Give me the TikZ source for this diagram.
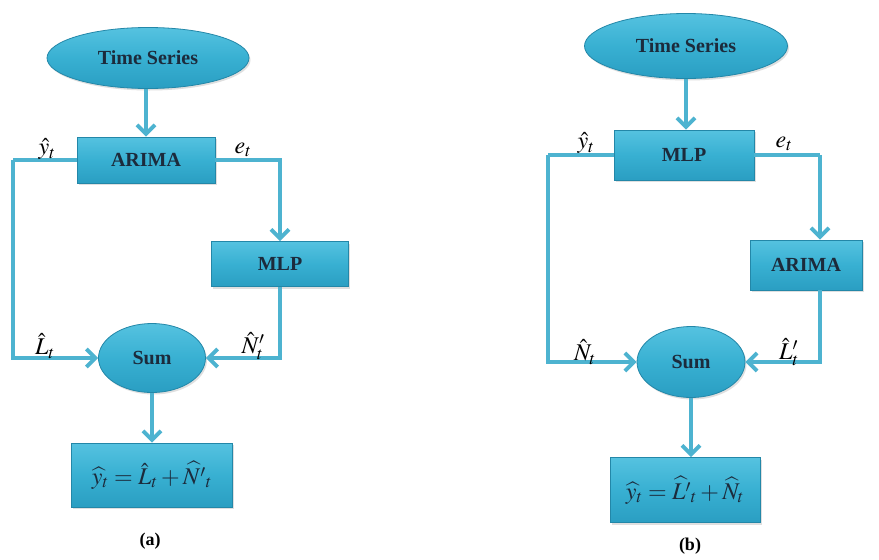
\documentclass[tikz,border=0pt]{standalone}
\usepackage{mathptmx}
\usepackage{fontspec}
\setmainfont{Liberation Serif}
\usetikzlibrary{arrows.meta,shapes.geometric,shadows}
\definecolor{fillc}{HTML}{38B0D2}
\definecolor{topc}{HTML}{55C2E0}
\definecolor{botc}{HTML}{2A9EC2}
\definecolor{edgec}{HTML}{2387A8}
\definecolor{linec}{HTML}{4DB3D0}
\definecolor{txtc}{HTML}{1C2B3C}
\tikzset{
  x=1pt, y=-1pt,
  shapebase/.style={draw=edgec, line width=0.8pt, top color=topc, bottom color=botc,
    middle color=fillc, text=txtc, font=\bfseries\fontsize{20}{23}\selectfont,
    inner sep=0pt, drop shadow={opacity=0.25, shadow xshift=1.5pt, shadow yshift=-2pt}},
  flowbox/.style={shapebase, rectangle},
  flowoval/.style={shapebase, ellipse},
  conn/.style={draw=linec, line width=3.8pt, line cap=butt, line join=miter},
  arr/.style={conn, -{Straight Barb[length=9pt,width=18pt]}},
  lab/.style={font=\fontsize{24}{28}\selectfont, text=black, inner sep=0pt},
  formula/.style={font=\fontsize{24}{28}\selectfont},
  captext/.style={font=\bfseries\fontsize{18}{21}\selectfont, inner sep=0pt}
}
\begin{document}
\begin{tikzpicture}
\useasboundingbox (0,0) rectangle (879,560);
\fill[white] (0,0) rectangle (879,560);

% ---------- panel (a) ----------
\node[flowoval, minimum width=202pt, minimum height=61pt] (ts1) at (148,58) {Time Series};
\node[flowbox, minimum width=138pt, minimum height=46pt] (ar1) at (146,160) {ARIMA};
\node[flowbox, minimum width=137pt, minimum height=45pt] (mlp1) at (280,264) {MLP};
\node[flowoval, minimum width=107pt, minimum height=69pt] (sum1) at (152,358) {Sum};
\node[flowbox, minimum width=161pt, minimum height=64pt, formula] (res1) at (152,475)
  {$\widehat{y}_t=\hat{L}_t+\widehat{N'}_t$};
\coordinate (l1) at (13,160);

\draw[arr] (ts1.south -| ar1.north) -- (ar1.north);
\draw[conn] (ar1.west) -- (l1);
\draw[arr] (l1) |- (sum1.west);
\draw[arr] (ar1.east) -| (mlp1.north);
\draw[arr] (mlp1.south) |- (sum1.east);
\draw[arr] (sum1.south) -- (sum1.south |- res1.north);

\node[lab] (ya) at (47,149) {$\hat{y}_t$};
\node[lab] (ea) at (243,150) {$e_t$};
\node[lab] (La) at (45,346) {$\hat{L}_t$};
\node[lab] (Na) at (253,346) {$\hat{N}'_t$};
\node[captext] (capa) at (150,541) {(a)};

% ---------- panel (b) ----------
\node[flowoval, minimum width=203pt, minimum height=65pt] (ts2) at (686,46) {Time Series};
\node[flowbox, minimum width=140pt, minimum height=50pt] (mlp2) at (684,155) {MLP};
\node[flowbox, minimum width=112pt, minimum height=50pt] (ar2) at (806,265) {ARIMA};
\node[flowoval, minimum width=108pt, minimum height=71pt] (sum2) at (691,362) {Sum};
\node[flowbox, minimum width=150pt, minimum height=65pt, formula] (res2) at (685,490)
  {$\widehat{y}_t=\widehat{L'}_t+\widehat{N}_t$};
\coordinate (l2) at (548,155);
\coordinate (r2) at (820,155);

\draw[arr] (ts2.south) -- (ts2.south |- mlp2.north);
\draw[conn] (mlp2.west) -- (l2);
\draw[arr] (l2) |- (sum2.west);
\draw[conn] (mlp2.east) -- (r2);
\draw[arr] (r2) -- (r2 |- ar2.north);
\draw[arr] (r2 |- ar2.south) |- (sum2.east);
\draw[arr] (sum2.south) -- (sum2.south |- res2.north);

\node[lab] (yb) at (586,143) {$\hat{y}_t$};
\node[lab] (eb) at (784,144) {$e_t$};
\node[lab] (Nb) at (585,352) {$\hat{N}_t$};
\node[lab] (Lb) at (789,352) {$\hat{L}'_t$};
\node[captext] (capb) at (690,546) {(b)};
\end{tikzpicture}
\end{document}
